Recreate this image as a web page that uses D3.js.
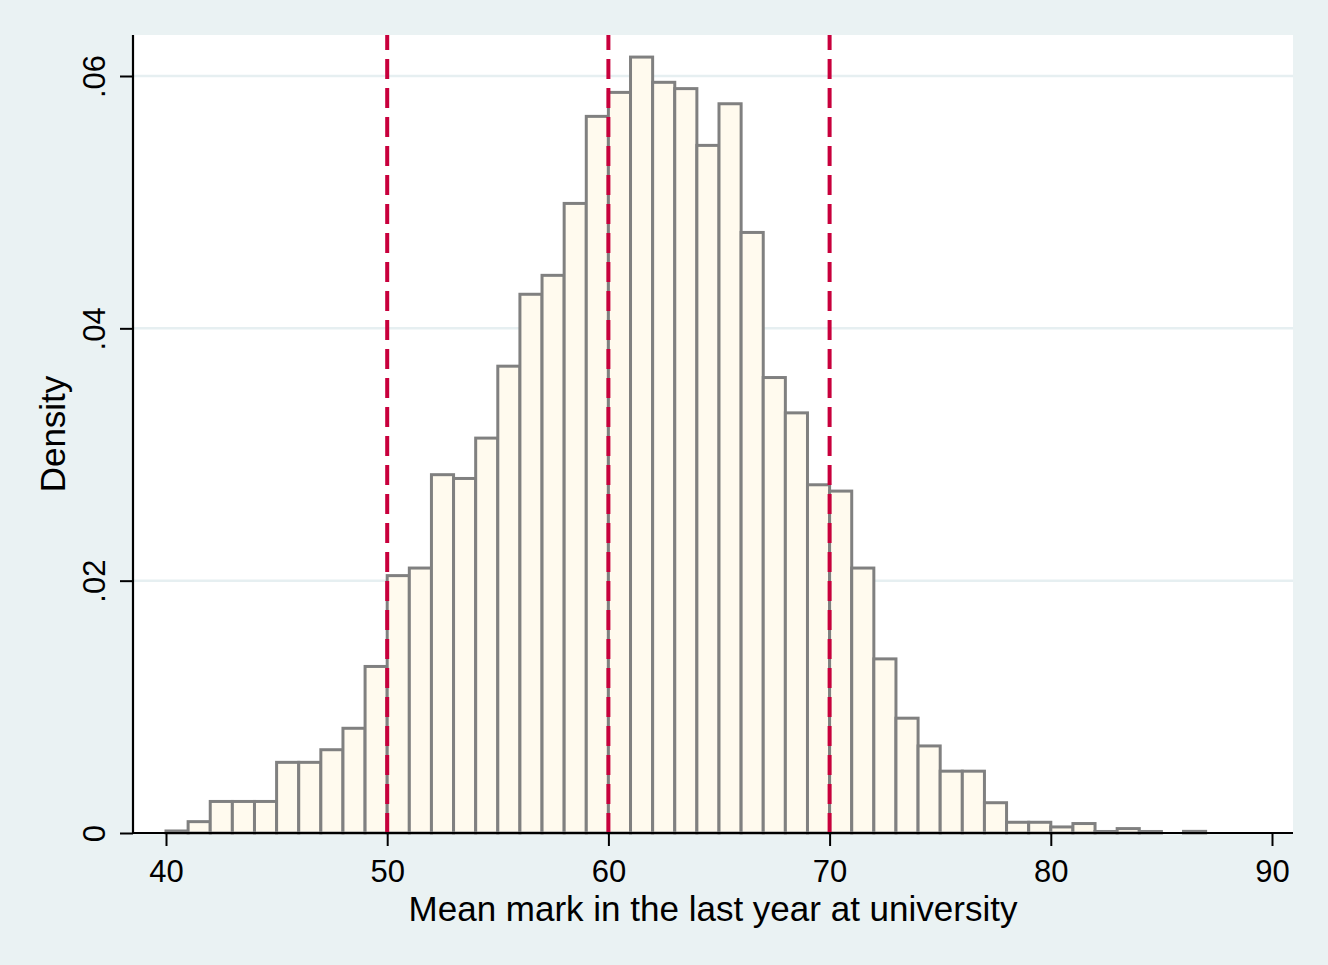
<!DOCTYPE html>
<html>
<head>
<meta charset="utf-8">
<script src="https://cdn.jsdelivr.net/npm/d3@7"></script>
<style>
  html, body { margin: 0; padding: 0; background: #EAF2F3; }
  svg { display: block; }
  text { font-family: "Liberation Sans", Arial, sans-serif; fill: #000; }
</style>
</head>
<body>
<svg id="chart" width="1328" height="965"></svg>
<script>
// Histogram bins: left edge of each 1-unit bin
const binStarts = [40,41,42,43,44,45,46,47,48,49,50,51,52,53,54,55,56,57,58,59,60,61,62,63,64,65,66,67,68,69,70,71,72,73,74,75,76,77,78,79,80,81,82,83,84,85,86];
const densities = [0.00016,0.0009,0.0025,0.0025,0.0025,0.0056,0.0056,0.0066,0.0083,0.0132,
                   0.0204,0.0210,0.0284,0.0281,0.0313,0.0370,0.0427,0.0442,0.0499,0.0568,
                   0.0587,0.0615,0.0595,0.0590,0.0545,0.0578,0.0476,0.0361,0.0333,0.0276,
                   0.0271,0.0210,0.0138,0.0091,0.0069,0.0049,0.0049,0.0024,0.00085,0.00085,
                   0.00048,0.00075,0.00012,0.00035,0.00012,0,0.00013];
const binWidth = 1;
const refLines = [50, 60, 70];
const xTicks = [40, 50, 60, 70, 80, 90];
const xTickLabels = ["40", "50", "60", "70", "80", "90"];
const yTicks = [0, 0.02, 0.04, 0.06];
const yTickLabels = ["0", ".02", ".04", ".06"];
const xTitle = "Mean mark in the last year at university";
const yTitle = "Density";

const svg = d3.select("#chart");
const plot = { left: 133, right: 1293, top: 35, bottom: 833 };

const x = d3.scaleLinear().domain([40, 90]).range([166, 1272]);
const y = d3.scaleLinear().domain([0, 0.06]).range([833, 76]);

// background
svg.append("rect").attr("width", 1328).attr("height", 965).attr("fill", "#EAF2F3");
svg.append("rect")
  .attr("x", plot.left).attr("y", plot.top)
  .attr("width", plot.right - plot.left).attr("height", plot.bottom - plot.top)
  .attr("fill", "#FFFFFF");

// gridlines
svg.append("g").selectAll("line")
  .data(yTicks.filter(d => d > 0))
  .join("line")
  .attr("x1", plot.left).attr("x2", plot.right)
  .attr("y1", d => y(d)).attr("y2", d => y(d))
  .attr("stroke", "#E6EFF1").attr("stroke-width", 2.5);

// bars
const bins = binStarts.map((b, i) => ({ x0: b, x1: b + binWidth, v: densities[i] }));
svg.append("g").selectAll("rect")
  .data(bins.filter(d => d.v > 0))
  .join("rect")
  .attr("x", d => x(d.x0))
  .attr("width", d => x(d.x1) - x(d.x0))
  .attr("y", d => y(d.v))
  .attr("height", d => y(0) - y(d.v))
  .attr("fill", "#FFFAEE")
  .attr("stroke", "#808080")
  .attr("stroke-width", 3);

// reference lines
svg.append("g").selectAll("line")
  .data(refLines)
  .join("line")
  .attr("x1", d => x(d)).attr("x2", d => x(d))
  .attr("y1", y(0)).attr("y2", plot.top)
  .attr("stroke", "#C8003C").attr("stroke-width", 4)
  .attr("stroke-dasharray", "20,9");

// x axis
const xAxisG = svg.append("g").attr("transform", `translate(0,${plot.bottom})`);
xAxisG.call(d3.axisBottom(x).tickValues(xTicks)
  .tickFormat((d, i) => xTickLabels[i]).tickSize(13).tickPadding(14));
xAxisG.select(".domain").remove();
xAxisG.selectAll(".tick line").attr("stroke", "#000").attr("stroke-width", 2);
xAxisG.selectAll(".tick text").attr("font-size", 31).attr("font-family", "Liberation Sans, Arial, sans-serif").attr("fill", "#000");
xAxisG.append("line").attr("x1", plot.left).attr("x2", plot.right).attr("y1", 0).attr("y2", 0)
  .attr("stroke", "#000").attr("stroke-width", 2.2);

// y axis
const yAxisG = svg.append("g").attr("transform", `translate(${plot.left},0)`);
yAxisG.call(d3.axisLeft(y).tickValues(yTicks)
  .tickFormat((d, i) => yTickLabels[i]).tickSize(13));
yAxisG.select(".domain").remove();
yAxisG.selectAll(".tick line").attr("stroke", "#000").attr("stroke-width", 2);
yAxisG.selectAll(".tick text")
  .attr("font-size", 31).attr("font-family", "Liberation Sans, Arial, sans-serif").attr("fill", "#000")
  .attr("x", null).attr("dy", null)
  .attr("text-anchor", "middle")
  .attr("transform", "translate(-28,0) rotate(-90)");
yAxisG.append("line").attr("x1", 0).attr("x2", 0).attr("y1", plot.top).attr("y2", plot.bottom + 1)
  .attr("stroke", "#000").attr("stroke-width", 2.2);

// titles
svg.append("text")
  .attr("x", (plot.left + plot.right) / 2).attr("y", 921)
  .attr("text-anchor", "middle").attr("font-size", 35)
  .text(xTitle);
svg.append("text")
  .attr("transform", `translate(65,${(plot.top + plot.bottom) / 2}) rotate(-90)`)
  .attr("text-anchor", "middle").attr("font-size", 35)
  .text(yTitle);
</script>
</body>
</html>
